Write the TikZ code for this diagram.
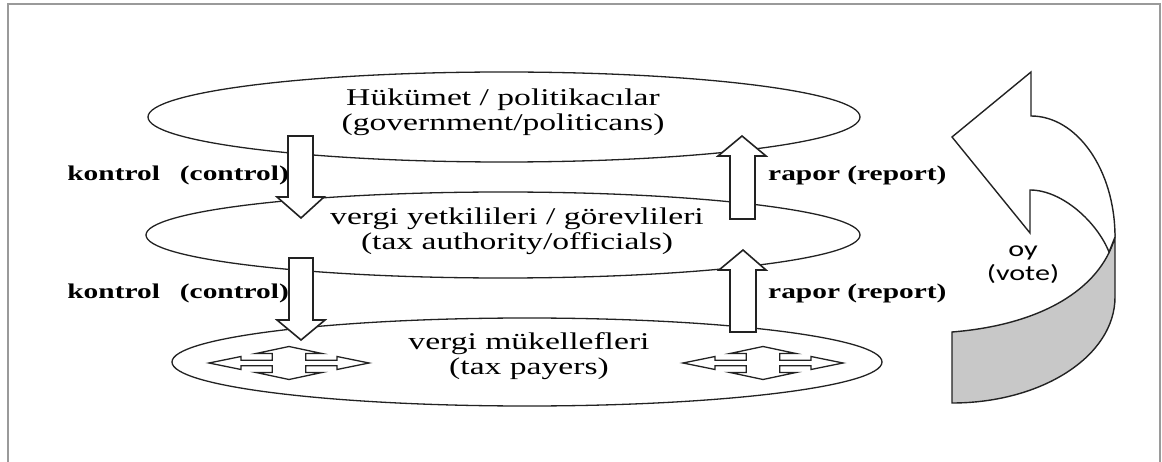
\documentclass[tikz,border=0pt]{standalone}
\usepackage{fontspec}
\setmainfont{Liberation Serif}
\newfontfamily\serifw[FakeStretch=1.4]{Liberation Serif}
\newfontfamily\sansw[FakeStretch=1.37]{Carlito}
\usetikzlibrary{shapes.geometric}
\definecolor{linec}{HTML}{222222}
\definecolor{bandgray}{HTML}{C8C8C8}
\definecolor{framec}{HTML}{9A9A9A}
\begin{document}
\begin{tikzpicture}[x=1pt,y=-1pt,
  layerell/.style={ellipse, draw=linec, line width=1.3pt, inner sep=0pt, minimum width=#1, minimum height=88pt},
  eltext/.style={align=center, inner sep=0pt, font=\serifw\fontsize{24}{25}\selectfont},
  sidetext/.style={inner sep=0pt, font=\serifw\bfseries\fontsize{21}{24}\selectfont},
  blockarrow/.style={draw=linec, fill=white, line width=1.6pt, line join=miter},
  quadstyle/.style={draw=linec, fill=white, line width=1.3pt, line join=miter},
  quadarrow/.pic={
    \path[quadstyle] (-80,0) -- (-48,-6.5) -- (-48,-2.8) -- (-16.7,-2.8) -- (-16.7,-9.5) -- (-33,-9.5) -- (0,-16.5)
      -- (33,-9.5) -- (16.7,-9.5) -- (16.7,-2.8) -- (48,-2.8) -- (48,-6.5) -- (80,0)
      -- (48,6.5) -- (48,2.8) -- (16.7,2.8) -- (16.7,9.5) -- (33,9.5) -- (0,16.5)
      -- (-33,9.5) -- (-16.7,9.5) -- (-16.7,2.8) -- (-48,2.8) -- (-48,6.5) -- cycle;
  }]
\useasboundingbox (0,0) rectangle (1162,462);
% frame
\draw[framec, line width=2pt] (8,462) -- (8,4) -- (1160,4) -- (1160,462);

% layers
\node[layerell=712pt, minimum height=90pt] (gov) at (504,117) {};
\node[layerell=714pt, minimum height=86pt] (tax) at (503,235) {};
\node[layerell=710pt, minimum height=88pt] (pay) at (527,362) {};

% block arrows: control (down)
\path[blockarrow] (288,136) -- (313,136) -- (313,197) -- (324,197) -- (301,218) -- (277,197) -- (288,197) -- cycle;
\path[blockarrow] (289,258) -- (313,258) -- (313,320) -- (325,320) -- (301,340) -- (277,320) -- (289,320) -- cycle;
% block arrows: report (up)
\path[blockarrow] (730,219) -- (755,219) -- (755,156) -- (766,156) -- (742,136) -- (718,156) -- (730,156) -- cycle;
\path[blockarrow] (730,332) -- (756,332) -- (756,270) -- (766,270) -- (743,250) -- (719,270) -- (730,270) -- cycle;

% texts in layers
\node[eltext] (govtxt) at (503,112) {Hükümet / politikacılar\\(government/politicans)};
\node[eltext] (taxtxt) at (517,231) {vergi yetkilileri / görevlileri\\(tax authority/officials)};
\node[eltext] (paytxt) at (529,356) {vergi mükellefleri\\(tax payers)};

% side labels
\node[sidetext, anchor=east] (k1) at (289,175) {kontrol\hspace{20pt}(control)};
\node[sidetext, anchor=east] (k2) at (289,293) {kontrol\hspace{20pt}(control)};
\node[sidetext, anchor=west] (r1) at (768,175) {rapor (report)};
\node[sidetext, anchor=west] (r2) at (768,293) {rapor (report)};

% quad arrows among tax payers
\pic (qa1) at (289,363) {quadarrow};
\pic (qa2) at (763,363) {quadarrow};

% vote U-turn arrow
\path[draw=linec, fill=bandgray, line width=1.4pt, line join=miter]
  (952,332) .. controls (1040,325) and (1100,290) .. (1115,237) -- (1115,297)
  .. controls (1115,356) and (1042,403) .. (952,403) -- cycle;
\path[draw=linec, fill=white, line width=1.4pt, line join=miter]
  (1031,72) -- (1031,116) .. controls (1077,116) and (1115,170) .. (1115,237)
  -- (1109,252) .. controls (1097,222) and (1062,190) .. (1030,190)
  -- (1030,233) -- (952,137) -- cycle;
\node[align=center, inner sep=0pt, font=\sansw\fontsize{22}{24}\selectfont] (vote) at (1023,265) {oy\\(vote)};
\end{tikzpicture}
\end{document}
